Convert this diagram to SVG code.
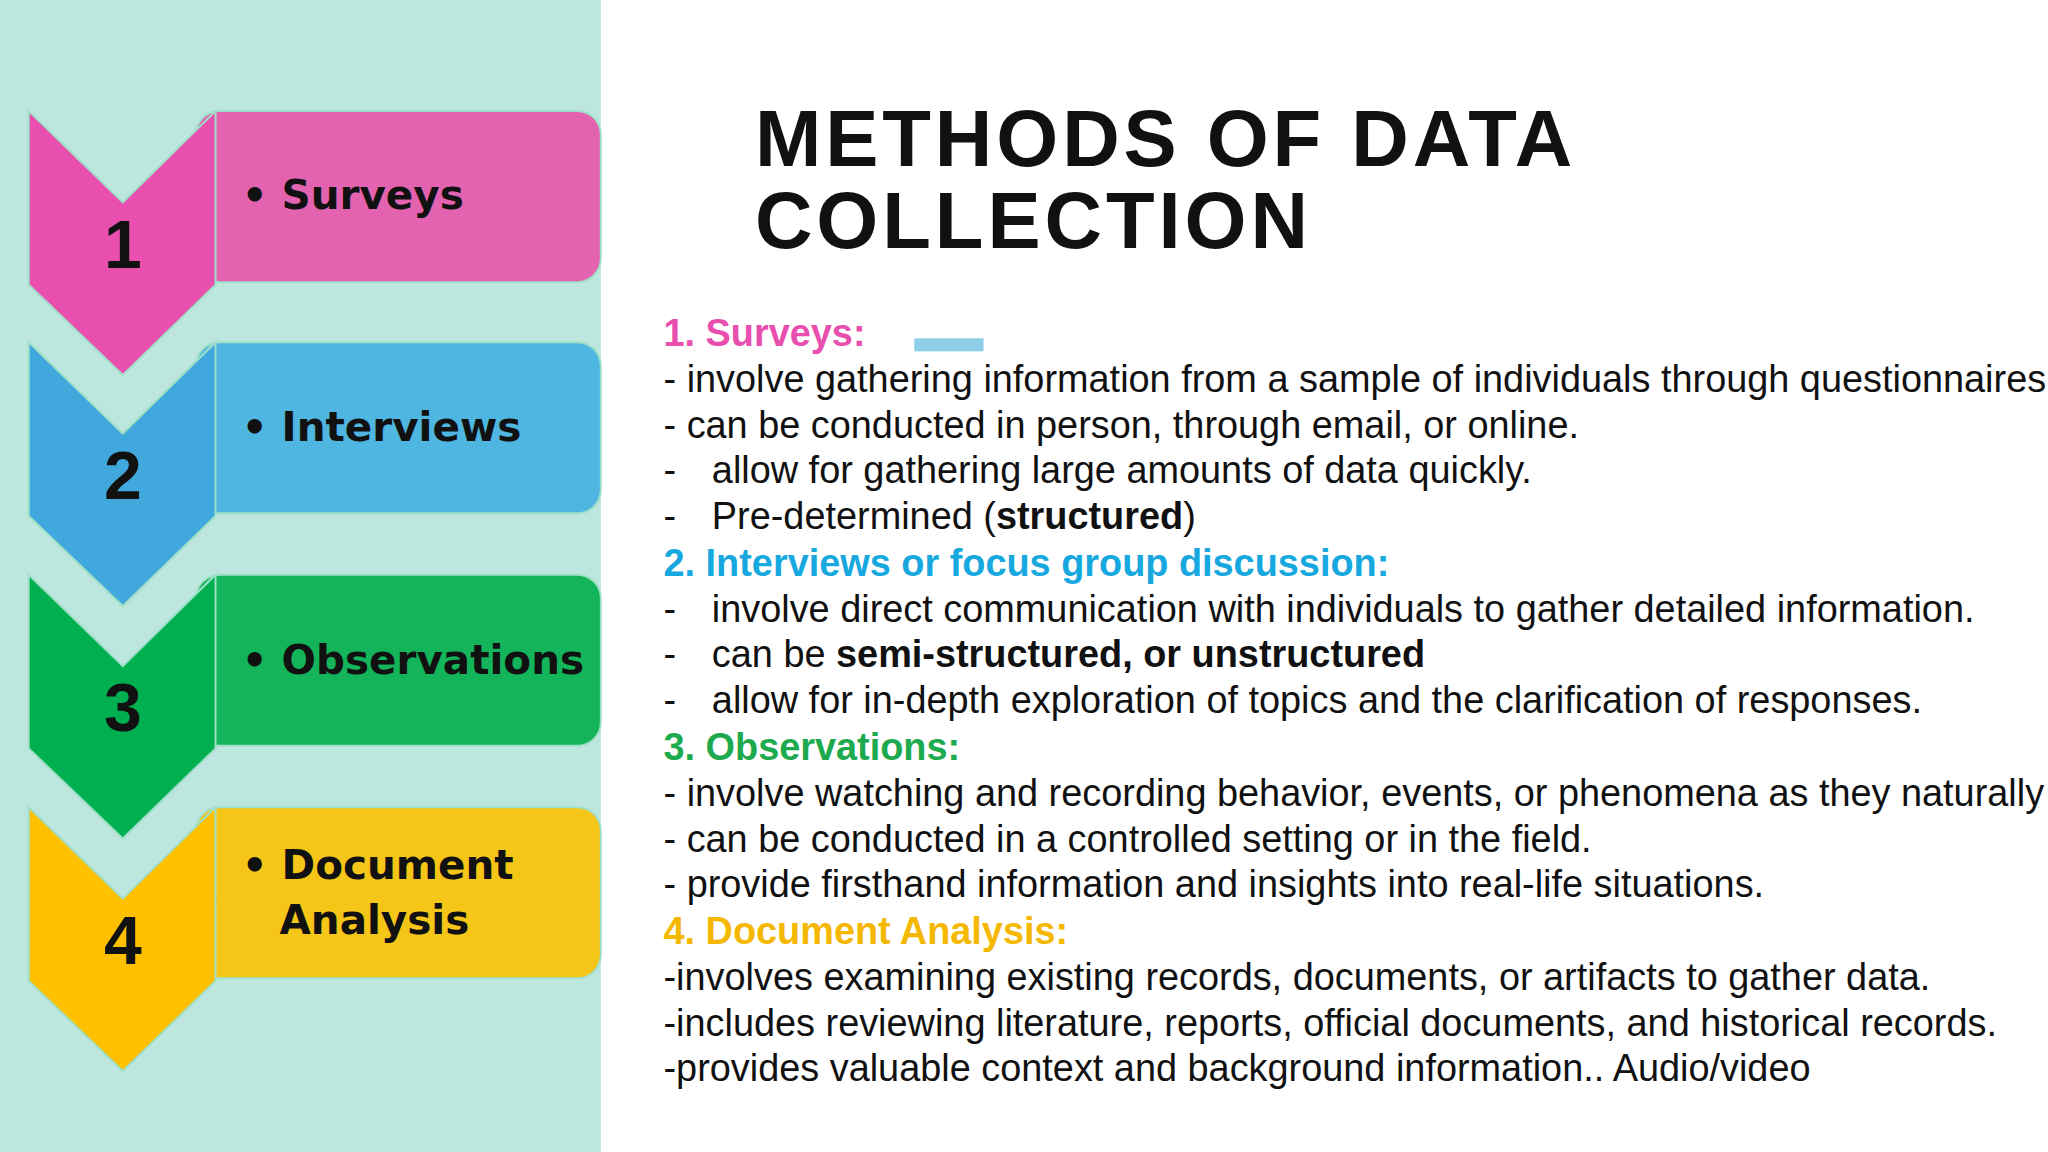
<svg xmlns="http://www.w3.org/2000/svg" width="2048" height="1152" viewBox="0 0 2048 1152">
<style>
.num{font-family:"Liberation Sans",Arial,sans-serif;font-weight:900;font-size:52px;fill:#111;text-anchor:middle}
.lab{font-family:"DejaVu Sans",sans-serif;font-weight:bold;font-size:31px;fill:#111}
.b{font-family:"Liberation Sans",Arial,sans-serif;font-size:29px;fill:#111}
.h{font-weight:bold}
.ttl{font-family:"Liberation Sans",Arial,sans-serif;font-size:61px;letter-spacing:3px;fill:#111;font-weight:bold}
</style>
<rect width="2048" height="1152" fill="#fff"/>
<g transform="scale(1.30612)">
<rect x="0" y="0" width="460" height="882" fill="#BDE6DE"/>
<g id="n1">
<rect x="150" y="85" width="310" height="131" rx="18" fill="#E463B1" stroke="#9fe0c8" stroke-width="1.5"/>
<path d="M22 85 L94 155 L165 85 L165 218 L94 287 L22 218 Z" fill="#E84FAE" stroke="#9fe0c8" stroke-width="1.5"/>
<text class="num" x="94" y="205">1</text>
<text class="lab" x="185" y="160">• Surveys</text>
</g>
<g id="n2">
<rect x="150" y="262" width="310" height="131" rx="18" fill="#4EB6E0" stroke="#9fe0c8" stroke-width="1.5"/>
<path d="M22 262 L94 332 L165 262 L165 395 L94 464 L22 395 Z" fill="#40A8DC" stroke="#9fe0c8" stroke-width="1.5"/>
<text class="num" x="94" y="382">2</text>
<text class="lab" x="185" y="338">• Interviews</text>
</g>
<g id="n3">
<rect x="150" y="440" width="310" height="131" rx="18" fill="#14B45A" stroke="#9fe0c8" stroke-width="1.5"/>
<path d="M22 440 L94 510 L165 440 L165 573 L94 642 L22 573 Z" fill="#00B050" stroke="#9fe0c8" stroke-width="1.5"/>
<text class="num" x="94" y="560">3</text>
<text class="lab" x="185" y="516">• Observations</text>
</g>
<g id="n4">
<rect x="150" y="618" width="310" height="131" rx="18" fill="#F5C518" stroke="#9fe0c8" stroke-width="1.5"/>
<path d="M22 618 L94 688 L165 618 L165 751 L94 820 L22 751 Z" fill="#FFC000" stroke="#9fe0c8" stroke-width="1.5"/>
<text class="num" x="94" y="738">4</text>
<text class="lab" x="185" y="673">• Document</text>
<text class="lab" x="214" y="715">Analysis</text>
</g>
<g id="connectors"></g>
<text class="ttl" x="578" y="127">METHODS OF DATA</text>
<text class="ttl" x="578" y="190">COLLECTION</text>
<rect x="700" y="259" width="53" height="10" fill="#8ECFE8"/>
<g class="b">
<text x="508" y="265" class="h" style="fill:#E84FAE">1. Surveys:</text>
<text x="508" y="300">- involve gathering information from a sample of individuals through questionnaires.</text>
<text x="508" y="335">- can be conducted in person, through email, or online.</text>
<text x="508" y="370">-<tspan x="545">allow for gathering large amounts of data quickly.</tspan></text>
<text x="508" y="405">-<tspan x="545">Pre-determined (</tspan><tspan class="h">structured</tspan>)</text>
<text x="508" y="441" class="h" style="fill:#17A8E0">2. Interviews or focus group discussion:</text>
<text x="508" y="476">-<tspan x="545">involve direct communication with individuals to gather detailed information.</tspan></text>
<text x="508" y="511">-<tspan x="545">can be </tspan><tspan class="h">semi-structured, or unstructured</tspan></text>
<text x="508" y="546">-<tspan x="545">allow for in-depth exploration of topics and the clarification of responses.</tspan></text>
<text x="508" y="582" class="h" style="fill:#1DAA4E">3. Observations:</text>
<text x="508" y="617">- involve watching and recording behavior, events, or phenomena as they naturally occur.</text>
<text x="508" y="652">- can be conducted in a controlled setting or in the field.</text>
<text x="508" y="687">- provide firsthand information and insights into real-life situations.</text>
<text x="508" y="723" class="h" style="fill:#F5B800">4. Document Analysis:</text>
<text x="508" y="758">-involves examining existing records, documents, or artifacts to gather data.</text>
<text x="508" y="793">-includes reviewing literature, reports, official documents, and historical records.</text>
<text x="508" y="828">-provides valuable context and background information.. Audio/video</text>
</g>
</g>
</svg>
